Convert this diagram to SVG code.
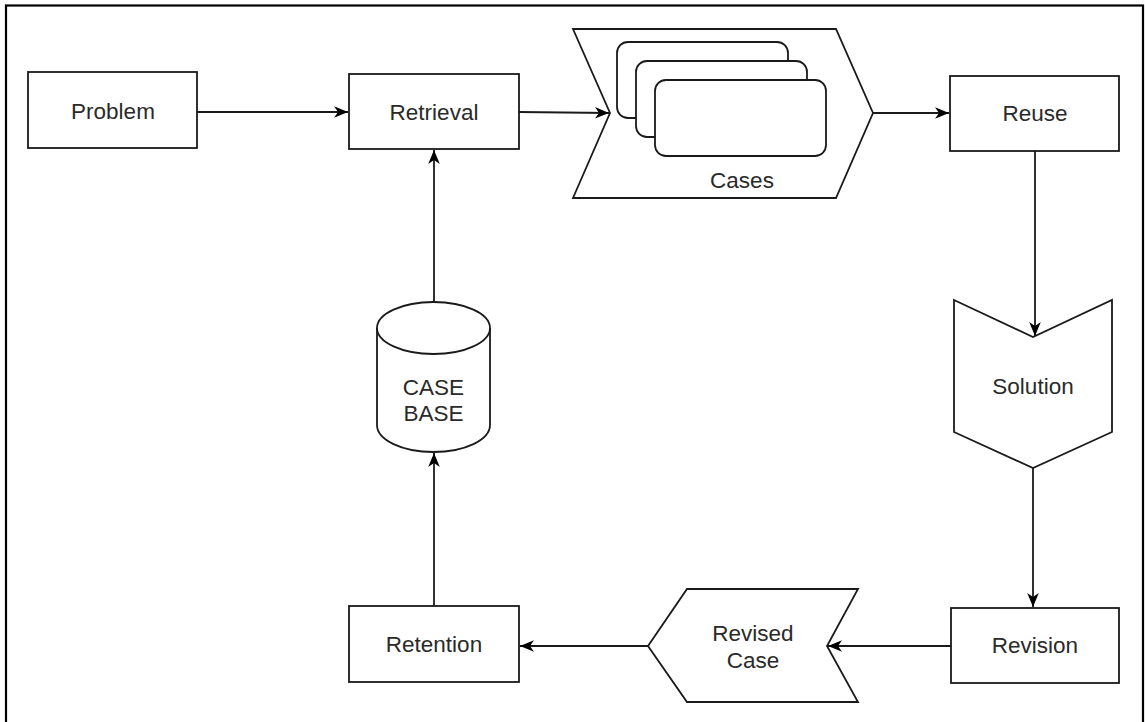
<svg xmlns="http://www.w3.org/2000/svg" width="1145" height="722" viewBox="0 0 1145 722">
<defs>
<marker id="arr" markerUnits="userSpaceOnUse" markerWidth="16" markerHeight="14" refX="14" refY="7" orient="auto">
<path d="M0,1.2 L14,7 L0,12.8 L4,7 Z" fill="#000"/>
</marker>
<style>
.n{fill:#fff;stroke:#1a1a1a;stroke-width:1.8}
.t{font-family:"Liberation Sans",Arial,sans-serif;font-size:22.5px;fill:#2a2a2a;text-anchor:middle;dominant-baseline:central}
.c{fill:none;stroke:#1a1a1a;stroke-width:1.8}
</style>
</defs>
<rect x="0" y="0" width="1145" height="722" fill="#fff"/>
<rect x="6" y="5.5" width="1137" height="740" fill="none" stroke="#000" stroke-width="2.2"/>
<g id="problem"><rect class="n" x="28" y="72" width="169" height="76"/><text class="t" x="113" y="111">Problem</text></g>
<g id="retrieval"><rect class="n" x="349" y="74" width="170" height="75"/><text class="t" x="434" y="112">Retrieval</text></g>
<g id="cases">
<path class="n" d="M573,29 L836,29 L873,113 L836,198 L573,198 L610,113 Z"/>
<rect class="n" x="617" y="42" width="171" height="76" rx="11"/>
<rect class="n" x="636" y="61" width="171" height="76" rx="11"/>
<rect class="n" x="655" y="80" width="171" height="76" rx="11"/>
<text class="t" x="742" y="180">Cases</text>
</g>
<g id="reuse"><rect class="n" x="950" y="76" width="169" height="75"/><text class="t" x="1035" y="113">Reuse</text></g>
<g id="solution"><path class="n" d="M954,300 L1033,337 L1112,300 L1112,432 L1033,468 L954,432 Z"/><text class="t" x="1033" y="386">Solution</text></g>
<g id="revision"><rect class="n" x="951" y="608" width="168" height="75"/><text class="t" x="1035" y="645">Revision</text></g>
<g id="revised-case"><path class="n" d="M648,646 L687,589 L858,589 L827,646 L858,702 L687,702 Z"/><text class="t" x="753" y="633">Revised</text><text class="t" x="753" y="660">Case</text></g>
<g id="retention"><rect class="n" x="349" y="606" width="170" height="76"/><text class="t" x="434" y="644">Retention</text></g>
<g id="case-base">
<path class="n" d="M377,328 L377,425 A56.5,27 0 0 0 490,425 L490,328 A56.5,26 0 0 0 377,328 Z"/>
<path class="c" d="M377,328 A56.5,26 0 0 0 490,328"/>
<text class="t" x="433.5" y="387">CASE</text><text class="t" x="433.5" y="413">BASE</text>
</g>
<g id="connectors">
<path class="c" d="M197,112 L348,112" marker-end="url(#arr)"/>
<path class="c" d="M519,112 L609,113" marker-end="url(#arr)"/>
<path class="c" d="M873,113 L949,113" marker-end="url(#arr)"/>
<path class="c" d="M1035,151 L1035,336" marker-end="url(#arr)"/>
<path class="c" d="M1033,468 L1033,607" marker-end="url(#arr)"/>
<path class="c" d="M951,646 L828,646" marker-end="url(#arr)"/>
<path class="c" d="M648,646 L520,646" marker-end="url(#arr)"/>
<path class="c" d="M434,606 L434,453" marker-end="url(#arr)"/>
<path class="c" d="M434,302 L434,150" marker-end="url(#arr)"/>
</g>
</svg>
